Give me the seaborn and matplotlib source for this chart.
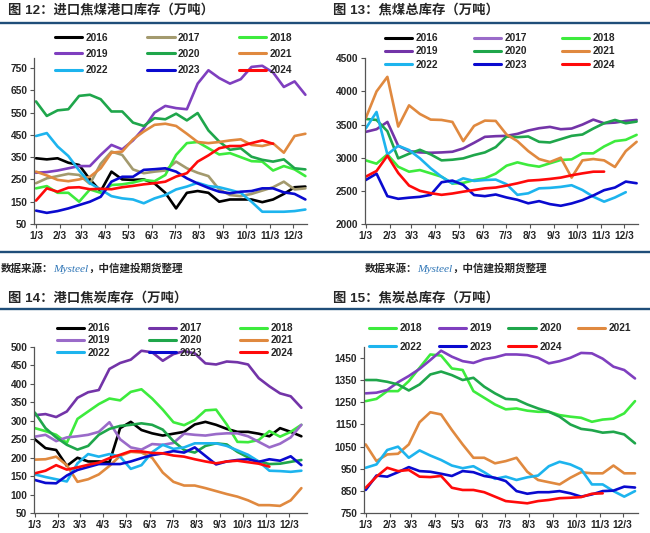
import numpy as np
import pandas as pd
import matplotlib
matplotlib.use("Agg")
import matplotlib.pyplot as plt
import seaborn as sns
from matplotlib.lines import Line2D

sns.set_style("white")
plt.rcParams["font.family"] = ["Liberation Sans", "Noto Sans CJK SC", "DejaVu Sans"]

W, H = 650, 533

# ---------------- data (week index from 1/3, every 2 weeks) ----------------
weeks = list(range(0, 51, 2))
month_labels = ["1/3", "2/3", "3/3", "4/3", "5/3", "6/3", "7/3", "8/3", "9/3", "10/3", "11/3", "12/3"]
N = None

# Fig 12: imported coking coal port inventory
p1_2016 = [345, 340, 345, 325, 315, 250, 197, 285, 250, 248, 250, 232, 190, 120, 190, 198, 190, 150, 160, 160, 160, 148, 160, 185, 215, 218]
p1_2017 = [233, 255, 265, 275, 270, 230, 320, 375, 360, 295, 278, 285, 290, 330, 300, 280, 265, 205, 180, 175, 185, 200, 215, 240, 205, 210]
p1_2018 = [210, 220, 190, 190, 150, 205, 190, 225, 228, 236, 248, 242, 270, 360, 413, 418, 390, 362, 368, 350, 332, 330, 290, 310, 295, 265]
p1_2019 = [280, 283, 290, 300, 310, 310, 360, 405, 385, 425, 480, 550, 580, 570, 565, 680, 740, 705, 680, 700, 755, 760, 730, 665, 690, 630]
p1_2020 = [600, 535, 560, 565, 625, 630, 610, 555, 555, 505, 490, 525, 520, 545, 515, 548, 470, 420, 383, 390, 352, 338, 330, 340, 300, 295]
p1_2021 = [285, 268, 248, 242, 250, 262, 300, 370, 375, 430, 465, 495, 500, 490, 455, 418, 413, 418, 425, 430, 405, 400, 412, 370, 445, 455]
p1_2022 = [445, 458, 398, 355, 290, 233, 205, 175, 165, 160, 143, 165, 180, 205, 218, 235, 220, 215, 203, 190, 150, 105, 105, 105, 108, 115]
p1_2023 = [110, 100, 108, 120, 135, 150, 172, 240, 262, 262, 293, 296, 300, 285, 255, 232, 212, 195, 188, 195, 198, 210, 210, 192, 185, 160]
p1_2024 = [155, 210, 195, 213, 215, 206, 208, 206, 215, 221, 228, 233, 240, 263, 278, 330, 358, 390, 400, 400, 413, 425, 410, N, N, N]

# Fig 13: total coking coal inventory
p2_2016 = []
p2_2017 = []
p2_2018 = [2960, 2910, 3050, 2864, 2789, 2814, 2764, 2713, 2610, 2620, 2663, 2690, 2760, 2880, 2930, 2890, 2865, 2916, 2966, 2975, 3066, 3066, 3170, 3250, 3270, 3345]
p2_2019 = [3390, 3430, 3540, 3180, 3100, 3080, 3075, 3080, 3090, 3140, 3225, 3315, 3325, 3330, 3360, 3410, 3445, 3465, 3430, 3440, 3500, 3575, 3520, 3530, 3555, 3570]
p2_2020 = [3585, 3570, 3400, 2990, 3060, 3120, 3050, 2960, 2970, 2990, 3040, 3080, 3160, 3320, 3310, 3320, 3240, 3230, 3280, 3330, 3350, 3440, 3520, 3570, 3520, 3545]
p2_2021 = [3595, 4000, 4220, 3470, 3790, 3660, 3575, 3570, 3540, 3250, 3480, 3560, 3555, 3350, 3250, 3100, 2980, 2935, 3000, 2700, 2960, 2980, 2960, 2860, 3100, 3240]
p2_2022 = [3440, 3690, 3050, 3180, 3116, 2991, 2840, 2713, 2613, 2689, 2650, 2664, 2670, 2600, 2440, 2463, 2538, 2545, 2560, 2585, 2513, 2412, 2337, 2400, 2480, N]
p2_2023 = [2663, 2760, 2420, 2380, 2397, 2410, 2440, 2630, 2655, 2590, 2437, 2420, 2445, 2400, 2365, 2312, 2345, 2300, 2275, 2310, 2360, 2430, 2510, 2550, 2640, 2615]
p2_2024 = [2714, 2800, 3030, 2770, 2580, 2500, 2465, 2440, 2460, 2488, 2513, 2538, 2550, 2580, 2614, 2654, 2664, 2680, 2700, 2735, 2764, 2789, 2790, N, N, N]

# Fig 14: port coke inventory
p3_2016 = [250, 226, 221, 178, 200, 190, 190, 188, 280, 297, 275, 266, 260, 265, 270, 290, 297, 289, 278, 270, 270, 265, 258, 280, 270, 258]
p3_2017 = [315, 318, 310, 325, 362, 377, 383, 440, 456, 465, 489, 485, 462, 480, 488, 482, 455, 452, 460, 458, 452, 415, 393, 374, 366, 335]
p3_2018 = [280, 272, 262, 240, 305, 325, 345, 360, 355, 378, 385, 360, 330, 296, 288, 302, 328, 330, 290, 243, 242, 248, 272, 257, 270, 289]
p3_2019 = [257, 262, 245, 255, 258, 262, 270, 296, 250, 228, 222, 237, 235, 240, 265, 262, 260, 264, 266, 266, 258, 243, 228, 238, 255, 289]
p3_2020 = [322, 280, 255, 235, 222, 232, 262, 278, 286, 289, 293, 289, 276, 245, 221, 214, 232, 239, 236, 216, 201, 190, 183, 184, 189, 194]
p3_2021 = [195, 196, 203, 180, 135, 142, 155, 178, 205, 216, 214, 200, 160, 135, 125, 125, 118, 110, 102, 95, 85, 72, 72, 70, 85, 118]
p3_2022 = [155, 148, 142, 136, 185, 210, 203, 210, 203, 170, 180, 215, 235, 224, 228, 239, 239, 239, 232, 220, 208, 190, 165, 164, 162, 165]
p3_2023 = [140, 132, 131, 152, 167, 175, 183, 183, 183, 190, 199, 207, 212, 218, 214, 228, 205, 182, 190, 194, 196, 189, 196, 192, 204, 180]
p3_2024 = [158, 165, 180, 168, 174, 181, 187, 199, 208, 218, 217, 213, 212, 206, 203, 196, 190, 185, 190, 192, 188, 184, 176, N, N, N]

# Fig 15: total coke inventory
p4_2018 = [1255, 1265, 1300, 1300, 1345, 1405, 1465, 1460, 1402, 1395, 1300, 1270, 1240, 1218, 1222, 1212, 1207, 1207, 1192, 1185, 1180, 1162, 1172, 1176, 1200, 1255]
p4_2019 = [1290, 1293, 1305, 1340, 1368, 1400, 1440, 1482, 1455, 1435, 1427, 1444, 1452, 1465, 1465, 1462, 1450, 1425, 1435, 1450, 1472, 1470, 1446, 1410, 1395, 1357]
p4_2020 = [1350, 1350, 1342, 1330, 1303, 1330, 1375, 1388, 1372, 1350, 1360, 1320, 1290, 1265, 1262, 1240, 1222, 1207, 1185, 1150, 1130, 1124, 1113, 1117, 1105, 1065]
p4_2021 = [1060, 985, 1015, 1018, 1060, 1160, 1205, 1195, 1125, 1060, 1000, 1000, 975, 985, 1000, 937, 900, 890, 880, 910, 935, 930, 930, 965, 930, 930]
p4_2022 = [955, 970, 1035, 1050, 1000, 1033, 1010, 990, 965, 953, 962, 935, 905, 915, 900, 912, 920, 962, 982, 970, 948, 880, 880, 850, 825, 850]
p4_2023 = [855, 920, 915, 935, 958, 940, 937, 928, 918, 940, 935, 918, 910, 895, 850, 838, 845, 845, 850, 840, 825, 835, 850, 852, 870, 866]
p4_2024 = [865, 915, 955, 940, 945, 915, 913, 918, 865, 855, 855, 845, 825, 805, 800, 795, 805, 810, 818, 820, 823, 838, 840, N, N, N]

titles = ["图 12：进口焦煤港口库存（万吨）", "图 13：焦煤总库存（万吨）",
          "图 14：港口焦炭库存（万吨）", "图 15：焦炭总库存（万吨）"]
source_parts = ["数据来源：", "Mysteel", "，中信建投期货整理"]

# ---------------- styling ----------------
C = {"2016": "#000000", "2017": "#A39A6E", "2018": "#3DEB3D", "2019": "#7F3FBF",
     "2020": "#1FA64B", "2021": "#E0893F", "2022": "#1DB4EE", "2023": "#0A0ACF", "2024": "#FF0A0A"}
DARKP, LIGHTP = "#7334A8", "#9A6BC9"

month_pos = [(pd.Timestamp(2023, m, 3).dayofyear - 3) / 7 for m in range(1, 13)]

fig = plt.figure(figsize=(W / 100, H / 100), dpi=100)


def px_rect(l, t, r, b):
    return [l / W, 1 - b / H, (r - l) / W, (b - t) / H]


def panel(rect, series, colors, ylim, yticks, xlim, legend_order, ncol, leg_anchor,
          colsp, lblsp):
    ax = fig.add_axes(px_rect(*rect))
    rows = []
    for name, vals in series.items():
        for w, v in zip(weeks, vals):
            if v is not None:
                rows.append((name, w, v))
    df = pd.DataFrame(rows, columns=["year", "week", "value"])
    present = [k for k in series if len([v for v in series[k] if v is not None])]
    sns.lineplot(data=df, x="week", y="value", hue="year", hue_order=present,
                 palette={k: colors[k] for k in present}, estimator=None,
                 legend=False, linewidth=1.9, ax=ax, sort=True)
    ax.set_xlim(*xlim)
    ax.set_ylim(*ylim)
    ax.set_yticks(yticks)
    ax.set_yticklabels([str(v) for v in yticks])
    ax.set_xticks(month_pos)
    ax.set_xticklabels(month_labels)
    ax.set_xlabel("")
    ax.set_ylabel("")
    for s in ["top", "right"]:
        ax.spines[s].set_visible(False)
    for s in ["left", "bottom"]:
        ax.spines[s].set_color("#555555")
        ax.spines[s].set_linewidth(0.9)
    ax.tick_params(axis="both", direction="out", length=3, width=0.8, color="#555555",
                   labelsize=7.3, pad=2, left=True, bottom=True)
    for lab in ax.get_xticklabels() + ax.get_yticklabels():
        lab.set_fontweight("bold")
    handles = [Line2D([], [], color=colors[k], lw=2.2) for k in legend_order]
    ax.legend(handles, legend_order, ncol=ncol, loc="upper left",
              bbox_to_anchor=(leg_anchor[0] / W, 1 - leg_anchor[1] / H),
              bbox_transform=fig.transFigure, frameon=False, borderpad=0,
              handlelength=2.7, handletextpad=0.35, columnspacing=colsp,
              labelspacing=lblsp, prop={"weight": "bold", "size": 7.3})
    return ax


def rowmajor(items, ncol):
    nrow = int(np.ceil(len(items) / ncol))
    grid = [items[i * ncol:(i + 1) * ncol] for i in range(nrow)]
    out = []
    for c in range(ncol):
        for r in range(nrow):
            if c < len(grid[r]):
                out.append(grid[r][c])
    return out


yrs9 = ["2016", "2017", "2018", "2019", "2020", "2021", "2022", "2023", "2024"]
yrs7 = ["2018", "2019", "2020", "2021", "2022", "2023", "2024"]

s1 = dict(zip(yrs9, [p1_2016, p1_2017, p1_2018, p1_2019, p1_2020, p1_2021, p1_2022, p1_2023, p1_2024]))
s2 = dict(zip(yrs9, [p2_2016, p2_2017, p2_2018, p2_2019, p2_2020, p2_2021, p2_2022, p2_2023, p2_2024]))
s3 = dict(zip(yrs9, [p3_2016, p3_2017, p3_2018, p3_2019, p3_2020, p3_2021, p3_2022, p3_2023, p3_2024]))
s4 = dict(zip(yrs7, [p4_2018, p4_2019, p4_2020, p4_2021, p4_2022, p4_2023, p4_2024]))

c2 = dict(C); c2["2017"] = LIGHTP; c2["2019"] = DARKP
c3 = dict(C); c3["2017"] = DARKP; c3["2019"] = LIGHTP

ax1 = panel((34.3, 58, 307, 224), s1, C, (50, 795), list(range(50, 751, 100)), (-0.32, 50.3),
            rowmajor(yrs9, 3), 3, (50, 27.5), 3.8, 0.62)
ax2 = panel((365, 58.3, 637.7, 224), s2, c2, (2000, 4500), list(range(2000, 4501, 500)), (-0.13, 50.2),
            rowmajor(yrs9, 3), 3, (380, 28), 3.45, 0.32)
ax3 = panel((34.3, 346.7, 306.7, 513.3), s3, c3, (50, 500), list(range(50, 501, 50)), (-0.1, 51),
            rowmajor(yrs9, 3), 3, (52, 318), 3.75, 0.22)
ax4 = panel((364.3, 346.7, 637.7, 513.3), s4, C, (750, 1500), list(range(750, 1451, 100)), (-0.26, 50.5),
            rowmajor(yrs7, 4), 4, (364, 318), 1.6, 0.85)

# titles
for (x, y), t in zip([(8, 10), (333, 10), (8, 298), (333, 298)], titles):
    fig.text(x / W, 1 - y / H, t, fontsize=9.6, fontweight="bold", va="center", ha="left")

# navy rules
for y in [22.7, 251.7, 309.3]:
    fig.add_artist(Line2D([0, 1], [1 - y / H, 1 - y / H], color="#1F4E79", lw=1.7,
                          transform=fig.transFigure))

# source notes
for x in [1, 365]:
    t1 = fig.text(x / W, 1 - 274 / H, source_parts[0], fontsize=7.6, fontweight="bold",
                  style="italic", va="bottom", ha="left")
    t2 = ax1.annotate(source_parts[1], xy=(1, 0), xycoords=t1, va="bottom", ha="left",
                      fontsize=8.2, style="italic", family="Liberation Serif", color="#2E75B6",
                      annotation_clip=False)
    ax1.annotate(source_parts[2], xy=(1, 0), xycoords=t2, va="bottom", ha="left",
                 fontsize=7.6, fontweight="bold", style="italic", annotation_clip=False)

fig.savefig("out.png", dpi=100)
